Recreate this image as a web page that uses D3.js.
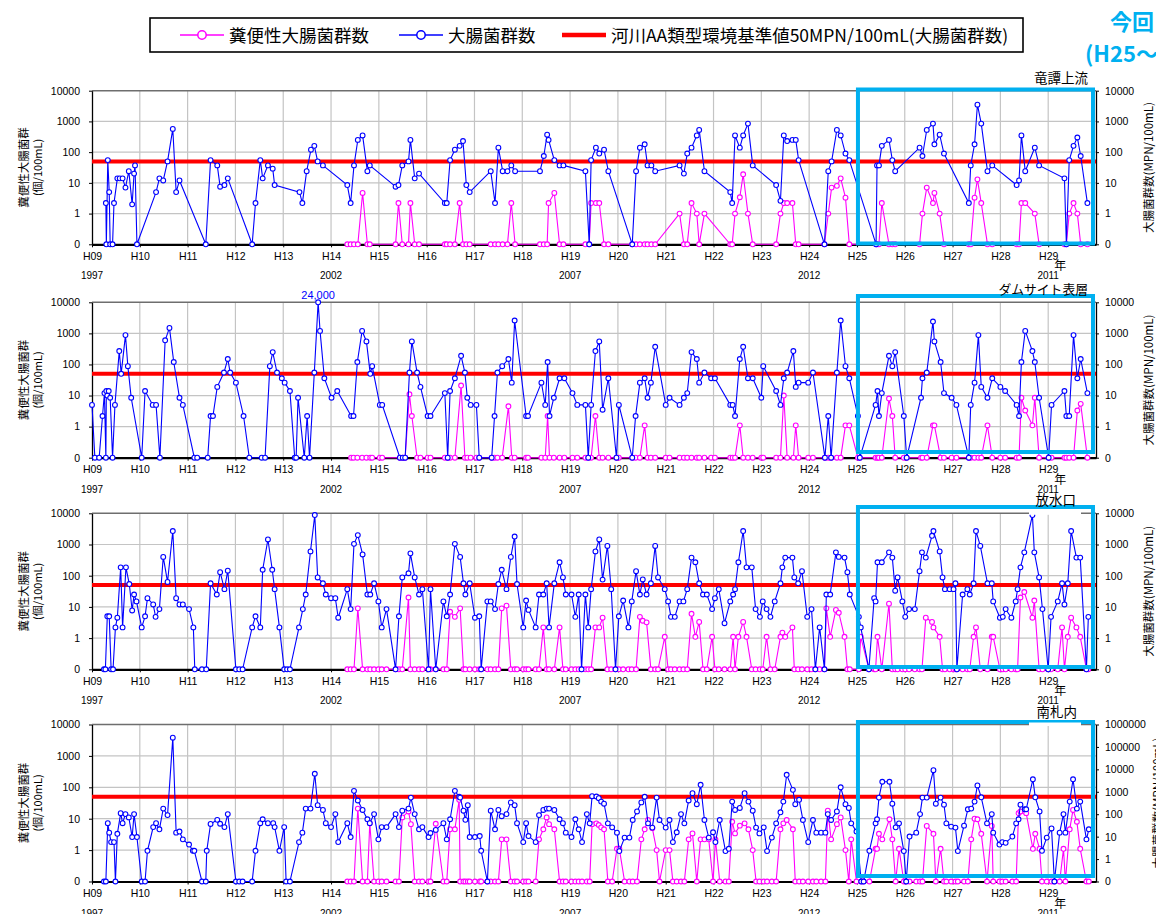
<!DOCTYPE html>
<html>
<head>
<meta charset="utf-8">
<script src="https://cdn.jsdelivr.net/npm/d3@7"></script>
<style>
body { margin: 0; background: #fff; }
text { font-family: "Liberation Sans", Arial, sans-serif; }
.jp { font-family: "Noto Sans CJK JP", "Noto Sans", sans-serif; }
</style>
</head>
<body>
<svg id="chart" width="1156" height="914"></svg>
<script>

// ---- data (fiscal year as decimal, e.g. 14.5 = middle of H14) ----
var sites = ["竜譚上流", "ダムサイト表層", "放水口", "南札内"];
var yearTicks = [9,10,11,12,13,14,15,16,17,18,19,20,21,22,23,24,25,26,27,28,29];
var yearLabels = ["H09","H10","H11","H12","H13","H14","H15","H16","H17","H18","H19",
                  "H20","H21","H22","H23","H24","H25","H26","H27","H28","H29"];
var calendarTicks = [9, 14, 19, 24, 29];
var calendarLabels = ["1997", "2002", "2007", "2012", "2011"];
var leftTicks = [0, 1, 10, 100, 1000, 10000];
var rightTicksWide = [0, 1, 10, 100, 1000, 10000, 100000, 1000000];
var standardValue = 50;

// fecal arrays line up with the LAST entries of the dates array (measured from H14)
var dates1 = [
  9.29,9.30,9.33,9.36,9.38,9.43,9.46,9.53,9.58,9.64,9.70,9.77,9.84,9.88,9.90,9.94,
  10.34,10.41,10.49,10.58,10.69,10.76,10.83,
  11.38,11.48,11.62,11.68,11.77,11.84,
  12.35,12.42,12.52,12.57,12.68,12.78,12.82,
  13.34,13.40,13.49,13.58,13.65,13.72,13.83,
  14.34,14.41,14.48,14.56,14.66,14.76,14.81,
  15.35,15.41,15.49,15.62,15.66,15.75,15.84,
  16.38,16.42,16.49,16.59,16.69,16.76,16.83,16.90,
  17.34,17.43,17.50,17.59,17.69,17.77,17.85,
  18.37,18.45,18.52,18.55,18.67,18.78,18.86,
  19.32,19.40,19.44,19.54,19.61,19.71,19.80,
  20.30,20.38,20.46,20.56,20.62,20.70,20.78,
  21.29,21.38,21.45,21.54,21.65,21.70,21.81,
  22.35,22.39,22.45,22.55,22.62,22.72,22.82,
  23.31,23.40,23.47,23.54,23.65,23.72,23.78,
  24.32,24.40,24.47,24.58,24.66,24.76,24.84,
  25.40,25.42,25.46,25.52,25.67,25.74,25.80,
  26.31,26.37,26.46,26.59,26.62,26.73,26.82,
  27.34,27.38,27.46,27.52,27.60,27.73,27.83,
  28.34,28.39,28.44,28.52,28.72,28.81,
  29.34,29.38,29.44,29.53,29.61,29.68,29.82];
var coli1 = [
  2.2,0,55,5,0,0,2.2,14,14,14,7,24,2,20,37,0,
  5,14,12,50,570,5,12,
  0,55,37,7.5,8.5,14,
  0,2.2,55,14,37,29,8.5,
  5,2.2,24,120,160,50,37,
  8.5,2.2,37,250,350,24,37,
  7.5,8.5,37,50,250,14,20,
  2.2,2.2,55,120,160,230,8.5,5,
  24,2.2,140,24,24,37,24,
  24,75,370,250,55,37,37,
  24,0,55,140,90,120,24,
  0,24,140,180,37,37,24,
  37,20,90,140,350,530,24,
  5,2.2,350,140,350,850,37,
  8.5,2.6,350,230,250,250,55,
  0,24,50,530,350,90,55,
  0,37,37,160,250,55,24,
  140,75,530,850,180,370,90,
  2.2,37,180,3500,850,24,37,
  8.5,12,350,24,140,37,
  14,0,55,160,300,75,2.2];
var fecal1 = [
  0,0,0,0,4.7,0,0,
  0,2.2,0,0,2.2,0,0,
  0,0,0,0,2.2,0,0,0,
  0,0,0,0,0,2.2,0,
  0,0,0,2.2,4.7,0,0,
  0,0,2.2,2.2,2.2,0,0,
  0,0,0,0,0,0,0,
  1,0,0,2.2,1,0,1,
  0,0,1,3.4,19,1,0,
  0,1,2.2,2.2,2.2,0,0,
  0,1,7,8,14,3.3,0,
  0,0,0,2.2,0,0,0,
  0,1,7,2.2,4.7,1,0,
  0,0,3.3,13,2.2,0,0,
  0,0,2.2,2.2,1,0,
  0,0,1,2.2,1,0,0];

var dates2 = [
  9.00,9.06,9.15,9.22,9.26,9.29,9.30,9.32,9.35,9.38,9.43,9.48,9.57,9.61,9.70,9.75,9.82,
  10.04,10.11,10.27,10.34,10.42,10.53,10.62,10.71,10.83,10.90,
  11.14,11.20,11.42,11.48,11.53,11.62,11.76,11.84,11.89,
  12.01,12.17,12.29,12.55,12.62,12.72,12.78,12.87,12.97,
  13.03,13.14,13.24,13.27,13.31,13.44,13.50,13.55,13.65,13.73,13.77,13.86,
  14.01,14.13,14.42,14.47,14.55,14.65,14.74,14.82,14.86,
  15.02,15.07,15.44,15.50,15.55,15.64,15.69,15.80,15.87,
  16.02,16.08,16.38,16.44,16.49,16.59,16.72,16.80,16.85,16.92,
  17.04,17.10,17.36,17.42,17.48,17.58,17.71,17.78,17.84,
  18.08,18.12,18.40,18.48,18.53,18.57,18.66,18.78,18.88,
  19.05,19.15,19.32,19.38,19.44,19.53,19.61,19.68,19.80,19.97,
  20.02,20.30,20.37,20.46,20.56,20.62,20.69,20.78,
  21.00,21.08,21.29,21.38,21.45,21.54,21.65,21.70,21.81,21.95,
  22.03,22.35,22.40,22.45,22.55,22.62,22.72,22.82,
  23.00,23.04,23.31,23.40,23.47,23.54,23.67,23.72,23.78,23.98,
  24.08,24.33,24.40,24.46,24.58,24.66,24.76,24.84,
  25.02,25.06,25.39,25.43,25.46,25.52,25.67,25.74,25.80,25.98,
  26.04,26.34,26.37,26.46,26.59,26.62,26.75,26.82,26.98,
  27.08,27.34,27.38,27.46,27.54,27.60,27.73,27.83,
  28.00,28.10,28.34,28.39,28.44,28.52,28.67,28.72,28.81,
  29.01,29.07,29.34,29.38,29.44,29.53,29.61,29.68,29.82];
var coli2 = [
  5,0,0,2.2,12,0,14,10,14,8.5,0,5,270,50,880,88,8.5,
  0,14,5,5,0,600,1500,120,8.5,5,
  0,0,0,2.2,2.2,19,55,150,55,
  26,2.2,0,0,0,88,250,55,36,
  26,14,0,0,8.5,0,2.2,0,55,24000,1200,36,
  8.5,14,2.2,2.2,120,1200,550,50,88,
  5,5,0,0,0,55,550,55,19,
  2.2,2.2,12,0,14,36,190,55,8.5,5,
  5,0,0,2.2,55,88,150,26,2600,
  2.2,2.2,26,5,120,2.2,8.5,36,36,
  12,5,5,0,5,270,550,3.5,36,0,
  5,0,2.2,26,36,8.5,26,370,
  5,8.5,5,8.5,12,250,150,26,55,36,
  36,5,5,2.2,150,370,36,36,
  8.5,88,14,5,36,55,270,19,26,26,
  55,0,2.2,0,55,2600,88,36,
  2.2,0,5,14,2.2,12,190,88,250,2.2,
  0,8.5,36,55,2400,550,120,12,8.5,
  5,0,5,26,880,19,8.5,36,
  19,14,5,2.2,120,1200,270,120,8.5,
  0,5,14,2.2,2.2,880,36,150,12];
var fecal2 = [
  0,0,0,0,0,0,0,
  0,0,0,0,0,11,2.2,0,0,
  0,0,0,0,0,0,21,0,0,0,
  0,0,0,0,0,0,4.5,0,0,
  0,0,0,0,2.2,0,0,0,0,
  0,0,0,0,0,2.2,0,0,0,0,
  0,0,0,0,1.1,0,0,0,
  0,0,0,0,0,0,0,0,0,0,
  0,0,0,0,1.1,0,0,0,
  0,0,0,0,10,0,0,1.1,0,0,
  0,0,0,0,0,0,1.1,1.1,
  0,0,0,0,0,0,8,2.2,0,0,
  0,0,0,0,1.1,1.1,0,0,0,
  0,0,0,0,0,0,1.1,0,
  0,0,0,0,8.5,3.3,1.1,8.5,0,
  0,0,0,0,0,0,3.3,5.4,0];

var dates3 = [
  9.25,9.28,9.32,9.36,9.40,9.44,9.49,9.53,9.60,9.64,9.71,9.78,9.84,9.88,9.93,
  10.04,10.11,10.16,10.28,10.33,10.41,10.49,10.58,10.69,10.76,10.83,10.90,
  11.03,11.12,11.15,11.30,11.39,11.48,11.61,11.68,11.77,11.84,
  12.01,12.08,12.15,12.35,12.42,12.52,12.57,12.68,12.77,12.82,12.92,
  13.02,13.08,13.14,13.33,13.41,13.47,13.57,13.66,13.72,13.83,13.89,
  14.00,14.09,14.15,14.34,14.41,14.48,14.56,14.66,14.76,14.82,14.90,14.99,
  15.06,15.16,15.35,15.42,15.49,15.62,15.66,15.75,15.84,15.91,
  16.04,16.08,16.19,16.35,16.42,16.49,16.59,16.70,16.77,16.81,16.90,
  17.01,17.10,17.14,17.27,17.34,17.43,17.50,17.57,17.67,17.76,17.84,17.89,
  18.02,18.08,18.13,18.28,18.35,18.44,18.51,18.56,18.67,18.78,18.85,18.91,
  19.03,19.11,19.18,19.24,19.32,19.38,19.44,19.53,19.61,19.68,19.78,19.86,19.95,
  20.02,20.11,20.22,20.29,20.38,20.46,20.52,20.60,20.69,20.78,20.84,20.98,
  21.05,21.11,21.19,21.29,21.37,21.45,21.54,21.62,21.70,21.78,21.86,21.97,
  22.03,22.11,22.23,22.35,22.41,22.45,22.52,22.62,22.69,22.80,22.88,22.97,
  23.03,23.11,23.19,23.28,23.40,23.44,23.50,23.65,23.69,23.77,23.85,23.96,
  24.05,24.13,24.22,24.32,24.36,24.44,24.56,24.62,24.74,24.80,24.85,
  25.04,25.08,25.25,25.36,25.39,25.43,25.52,25.67,25.74,25.80,25.85,25.95,
  26.01,26.09,26.21,26.31,26.36,26.44,26.57,26.60,26.73,26.79,26.84,26.94,
  27.02,27.06,27.09,27.21,27.31,27.36,27.44,27.49,27.58,27.73,27.82,27.85,27.99,
  28.05,28.11,28.23,28.32,28.36,28.42,28.50,28.67,28.71,28.81,28.88,
  29.00,29.06,29.20,29.29,29.34,29.41,29.48,29.59,29.67,29.80,29.84];
var coli3 = [
  0,0,5,5,0,0,2.2,4.5,185,2.2,185,54,7.7,25,15,
  2.2,5,19,12,4.8,8.5,400,63,2700,19,12,12,
  8.5,2.2,0,0,0,57,25,130,37,145,
  0,0,0,2.2,5,2.2,155,1450,155,37,2.2,
  0,0,0,2.2,8.5,25,600,8800,88,57,25,
  19,19,4.5,37,8.5,1050,2000,480,25,25,57,15,
  2.2,8.5,0,5,88,120,520,88,25,37,
  0,37,0,15,5,25,1050,400,57,25,57,
  4.5,5,0,15,15,8.5,54,155,37,400,1800,54,
  2.2,16,8,2.2,25,25,57,2.2,57,270,88,25,
  25,4.8,25,0,25,2.2,37,600,1450,75,900,37,0,
  5,16,2.2,15,140,25,76,25,57,900,88,37,
  15,4.8,4.8,15,15,37,380,270,57,25,25,8.5,
  19,37,3,15,25,37,270,2700,185,185,8.5,4.8,
  15,8.5,4.8,15,57,185,380,380,88,57,140,4.8,
  8.5,0,2.2,0,25,25,560,400,380,130,25,
  4.8,2.2,0,19,15,270,270,560,380,33,88,15,
  4.8,8.5,8.5,140,560,380,1900,2700,600,88,37,37,
  37,57,0,25,37,25,57,2700,900,57,57,15,4.5,
  4.8,8.5,4.5,15,37,185,560,8800,560,88,8.5,
  0,4.8,15,57,12,57,2700,380,380,0,4.8];
var fecal3 = [
  0,0,0,9,0,0,0,0,0,
  0,0,0,0,0,20,0,0,0,0,
  0,0,0,0,0,7,4.8,9,0,0,0,
  0,0,0,0,0,0,0,9,11,0,0,0,
  0,0,0,0,0,2.2,0,0,0,2.2,0,0,
  0,0,0,0,0,0,0,2.2,2.2,4.5,0,0,0,
  0,0,0,0,0,4.8,3.6,3.2,0,0,0,1.1,
  0,0,0,0,0,0,6,1.1,3.3,0,0,1.1,
  0,0,0,0,1.1,0,1.1,3.3,1.1,0,0,0,
  0,1.1,0,0,1.1,1.5,1.1,2.2,0,0,0,0,
  0,0,0,0,9,1.1,8,6.5,1.1,0,0,
  0,1.1,0,0,0,1.1,0,12.7,0,0,0,0,
  0,0,0,0,0,4.5,3.3,2.2,1.1,0,0,0,
  0,0,0,0,0,0,1.1,2.2,0,0,1.1,1.1,0,
  0,0,0,0,0,20,30,4.5,16,0,0,
  0,0,0,2.2,0,1.1,4.5,2.2,1.1,0,0];

var dates4 = [
  9.25,9.29,9.33,9.36,9.40,9.46,9.49,9.53,9.60,9.64,9.70,9.77,9.84,9.88,9.94,
  10.04,10.11,10.16,10.28,10.34,10.41,10.49,10.58,10.69,10.76,10.83,10.90,
  11.03,11.11,11.14,11.30,11.38,11.40,11.48,11.62,11.68,11.77,11.84,
  12.01,12.08,12.15,12.35,12.42,12.52,12.57,12.68,12.79,12.82,12.92,
  13.02,13.06,13.14,13.33,13.40,13.47,13.57,13.66,13.72,13.83,13.89,
  14.00,14.09,14.15,14.34,14.41,14.48,14.56,14.66,14.76,14.81,14.90,14.99,
  15.06,15.16,15.35,15.42,15.49,15.62,15.67,15.75,15.84,15.91,
  16.04,16.08,16.19,16.35,16.42,16.49,16.59,16.68,16.70,16.77,16.81,16.86,16.90,
  17.01,17.11,17.14,17.27,17.34,17.43,17.50,17.57,17.67,17.76,17.84,17.89,
  18.02,18.08,18.13,18.28,18.35,18.44,18.51,18.56,18.67,18.78,18.85,18.91,
  19.03,19.11,19.18,19.25,19.35,19.41,19.46,19.55,19.60,19.65,19.71,19.79,19.88,19.98,
  20.03,20.14,20.24,20.31,20.40,20.49,20.56,20.63,20.72,20.81,20.87,
  21.00,21.08,21.15,21.23,21.32,21.39,21.48,21.56,21.65,21.73,21.81,21.90,21.99,
  22.04,22.13,22.25,22.32,22.39,22.45,22.55,22.65,22.73,22.82,22.89,22.96,
  23.05,23.12,23.22,23.31,23.40,23.46,23.53,23.66,23.71,23.79,23.87,23.98,
  24.08,24.15,24.25,24.34,24.39,24.46,24.58,24.66,24.76,24.83,24.88,24.99,
  25.09,25.14,25.26,25.39,25.42,25.46,25.53,25.68,25.74,25.81,25.88,25.98,
  26.03,26.10,26.24,26.32,26.37,26.46,26.60,26.65,26.75,26.82,26.87,26.97,
  27.06,27.11,27.24,27.32,27.39,27.46,27.52,27.60,27.72,27.82,27.85,27.98,
  28.04,28.11,28.25,28.33,28.38,28.42,28.51,28.54,28.68,28.73,28.82,28.87,28.97,
  29.07,29.13,29.24,29.32,29.36,29.45,29.52,29.60,29.67,29.80,29.85];
var coli4 = [
  0,0,7.2,3.6,1.8,1.8,0,3.3,15,7.2,14,11,2.6,14,2.6,
  0,0,0.95,5.4,7.2,4.6,21,13,3800,3.6,3.9,2.2,
  1.5,0.95,0.95,0,0,0.95,6.8,9.2,6.9,5.4,14,
  0,0,0,0,0.95,7.2,9.6,7.2,7.2,5.4,0.95,
  5.4,0,0,1.8,3.6,21,21,270,27,19,7.2,
  5.4,14,1.8,7.2,2.6,77,38,19,9.6,7.2,14,2.2,
  5.4,5.4,14,5.4,18,21,47,14,4.6,5.4,
  2.6,3.5,4.4,7.2,2.2,9.6,77,50,47,18,9.2,27,2.6,
  2.6,2.8,0.95,0,18,4.6,19,12,14,33,27,7.2,
  1.8,7.2,2.8,1.8,13,19,21,21,19,9.6,7.2,3.6,
  2.6,9.6,4.6,1.8,14,7.1,52,51,45,35,30,7.1,5.3,3.6,
  0.93,2.5,2.5,9.1,17,33,50,7.1,5.2,47,9.1,
  5.2,9.1,1.8,3.7,14,7.1,38,65,29,120,9.1,2.5,3.7,
  1.8,9.1,0.93,1.1,35,19,22,65,35,18,5.2,3.4,
  5.3,0.93,2.5,7.1,16,35,250,83,29,40,9.1,1.8,
  9.1,3.6,3.6,3.6,14,9.1,17,100,29,22,7.1,3.9,
  0,0,0.95,7.1,9.6,47,150,150,30,5.3,7.1,0.93,
  0,2.7,3.6,14,47,47,350,30,47,28,7.1,5.6,
  5.2,0.93,6,20,21,35,115,48,7.1,14,3.6,1.5,
  1.8,1.7,2.7,7.1,9.6,28,20,20,180,48,17,0.95,2.5,
  4.9,0,3.6,14,3.6,35,180,21,35,2.2,4.6];
var fecal4 = [
  0,0,0,21,0,0,7.2,0,0,
  0,0,0,0,11,17,6.7,0,0,0,
  0,0,6.9,0,0,4.6,4.6,40,0,0,0,0,0,
  0,0,0,0,0,0,0,2.2,2.2,0,0,0,
  0,0,0,0,2.2,4.6,11,6.7,4.6,0,0,0,
  0,0,0,0,0,0,6.7,7.1,6.3,5.3,4.6,0,0,1.1,
  1.1,0,0,0,0,2.2,4.6,9.1,5,1.0,0,
  1.0,1.0,0,0,0,0,2.2,3.4,0,2.2,2.2,2.2,0,
  2.2,0,0,0,8,3.4,6,7.1,4.6,1.0,0,0,
  0,0,0,0,4.6,7.1,9.1,4.6,0,0,0,0,
  0,0,0,0,18,2.2,6.7,11,1.0,0,2.2,0,
  0,0,0,1.1,1.1,3.3,2.2,9.6,2.2,0,1.1,0,
  0,0,0,0,0,5.9,3.3,0,1.1,0,0,0,
  0,0,0,0,2.2,10,9.6,3.3,0,5.9,0,0,
  0,0,0,0,15,17,17,15,1.1,3.3,1.1,0,0,
  0,0,0,1.1,0,4.6,19,8,1.1,0,0];

var allDates = [dates1, dates2, dates3, dates4];
var allColi = [coli1, coli2, coli3, coli4];
var allFecal = [fecal1, fecal2, fecal3, fecal4];

// ---- layout ----
var panelTop = [90.7, 302.3, 513.3, 724.5];
var panelBottom = [244.3, 457.7, 669.3, 881.5];
var boxTop = [89.5, 296, 507, 722];
var boxBottom = [243.5, 452, 667, 876];
var titleRight = [1088, 1088, 1076, 1077];
var titleSize = [13.5, 12.8, 13.5, 13.5];

var COLI = "#0000ff", FECAL = "#ff00ff", RED = "#ff0000", CYAN = "#00b0f0";

var svg = d3.select("#chart");
svg.append("rect").attr("width", 1156).attr("height", 914).attr("fill", "#fff");

var x = d3.scaleLinear().domain([9, 30]).range([92, 1096]);

function zeroAsBottom(v) { return v === 0 ? 0.1 : v; }

sites.forEach(function(site, i) {
    var top = panelTop[i], bot = panelBottom[i];
    var y = d3.scaleLog().domain([0.1, 10000]).range([bot, top]).clamp(true);
    var yRight = i === 3
        ? d3.scaleLog().domain([0.1, 1000000]).range([bot, top])
        : y;
    var g = svg.append("g");

    // grid
    g.append("g").selectAll("line").data(yearTicks.slice(1)).enter().append("line")
        .attr("x1", d => x(d)).attr("x2", d => x(d))
        .attr("y1", top).attr("y2", bot)
        .attr("stroke", "#c4c4c4").attr("stroke-width", 1.2);
    g.append("g").selectAll("line").data([1, 10, 100, 1000]).enter().append("line")
        .attr("x1", x(9)).attr("x2", x(30))
        .attr("y1", d => y(d)).attr("y2", d => y(d))
        .attr("stroke", "#c4c4c4").attr("stroke-width", 1.2);
    g.append("line")
        .attr("x1", x(9)).attr("x2", x(30)).attr("y1", top).attr("y2", top)
        .attr("stroke", "#6e6e6e").attr("stroke-width", 1.5);

    // axes
    var left = g.append("g").attr("transform", "translate(" + x(9) + ",0)")
        .call(d3.axisLeft(y).tickValues(leftTicks.map(zeroAsBottom))
            .tickFormat(d => d < 1 ? "0" : d3.format("d")(d))
            .tickSizeInner(3).tickSizeOuter(0).tickPadding(9));
    var right = g.append("g").attr("transform", "translate(" + x(30) + ",0)")
        .call(d3.axisRight(yRight)
            .tickValues((i === 3 ? rightTicksWide : leftTicks).map(zeroAsBottom))
            .tickFormat(d => d < 1 ? "0" : d3.format("d")(d))
            .tickSizeInner(3).tickSizeOuter(0).tickPadding(6));
    var bottom = g.append("g").attr("transform", "translate(0," + bot + ")")
        .call(d3.axisBottom(x).tickValues(yearTicks)
            .tickFormat((d, j) => yearLabels[j])
            .tickSizeInner(3).tickSizeOuter(0).tickPadding(5));
    [left, right, bottom].forEach(function(a) {
        a.select(".domain").attr("stroke", "#000").attr("stroke-width", 1.3);
        a.selectAll(".tick line").attr("stroke", "#000");
        a.selectAll(".tick text").attr("fill", "#000")
            .style("font-family", "'Liberation Sans', Arial, sans-serif")
            .style("font-size", "10.5px");
    });
    bottom.select(".domain").attr("stroke-width", 2.2);
    bottom.selectAll(".tick line").attr("y2", 3);

    g.append("g").selectAll("text").data(calendarTicks).enter().append("text")
        .attr("x", d => x(d)).attr("y", bot + 35)
        .attr("text-anchor", "middle").attr("font-size", 10)
        .text((d, j) => calendarLabels[j]);
    g.append("text").attr("class", "jp")
        .attr("x", x(29) + 12).attr("y", bot + 26)
        .attr("text-anchor", "middle").attr("font-size", 12).text("年");

    // axis titles
    g.append("text").attr("class", "jp")
        .attr("transform", "translate(28," + (top + bot) / 2 + ") rotate(-90)")
        .attr("text-anchor", "middle").attr("font-size", 11.5).text("糞便性大腸菌群");
    g.append("text").attr("class", "jp")
        .attr("transform", "translate(42," + (top + bot) / 2 + ") rotate(-90)")
        .attr("text-anchor", "middle").attr("font-size", 11).text("(個/100mL)");
    g.append("text").attr("class", "jp")
        .attr("transform", "translate(" + (i === 3 ? 1162 : 1153) + "," + (top + bot) / 2 + ") rotate(-90)")
        .attr("text-anchor", "middle").attr("font-size", 11.5).text("大腸菌群数(MPN/100mL)");

    // environmental standard
    g.append("line")
        .attr("x1", x(9)).attr("x2", x(30))
        .attr("y1", y(standardValue)).attr("y2", y(standardValue))
        .attr("stroke", RED).attr("stroke-width", 4);

    // series
    var dates = allDates[i];
    var coli = dates.map((t, k) => [t, allColi[i][k]]);
    var off = dates.length - allFecal[i].length;
    var fecal = allFecal[i].map((v, k) => [dates[off + k], v]);

    var line = d3.line().x(d => x(d[0])).y(d => y(zeroAsBottom(d[1])));
    [[fecal, FECAL], [coli, COLI]].forEach(function(s) {
        g.append("path").datum(s[0])
            .attr("d", line).attr("fill", "none")
            .attr("stroke", s[1]).attr("stroke-width", 1.1);
        g.append("g").selectAll("circle").data(s[0]).enter().append("circle")
            .attr("cx", d => x(d[0])).attr("cy", d => y(zeroAsBottom(d[1])))
            .attr("r", 2.4).attr("fill", "#fff")
            .attr("stroke", s[1]).attr("stroke-width", 1.1);
    });

    if (i === 1) {
        var peak = coli.filter(d => d[1] > 10000)[0];
        g.append("text").attr("x", x(peak[0])).attr("y", top - 3)
            .attr("text-anchor", "middle").attr("font-size", 11)
            .attr("fill", COLI).text(d3.format(",")(peak[1]));
    }

    // current-survey frame
    g.append("rect")
        .attr("x", x(25) + 1).attr("y", boxTop[i])
        .attr("width", x(30) - x(25) - 4).attr("height", boxBottom[i] - boxTop[i])
        .attr("fill", "none").attr("stroke", CYAN).attr("stroke-width", 4);

    // site name
    if (i >= 2) {
        g.append("rect").attr("x", 1029).attr("y", top - 2)
            .attr("width", 52).attr("height", 3.5).attr("fill", "#fff");
    }
    g.append("text").attr("class", "jp")
        .attr("x", titleRight[i]).attr("y", top - 8)
        .attr("text-anchor", "end").attr("font-size", titleSize[i]).text(site);
});

// ---- legend ----
var legend = svg.append("g");
legend.append("rect").attr("x", 150).attr("y", 18).attr("width", 873).attr("height", 34)
    .attr("fill", "#fff").attr("stroke", "#000").attr("stroke-width", 1.6);
var legendItems = [
    {label: "糞便性大腸菌群数", color: FECAL, x0: 180, marker: true},
    {label: "大腸菌群数", color: COLI, x0: 399, marker: true},
    {label: "河川AA類型環境基準値50MPN/100mL(大腸菌群数)", color: RED, x0: 562, marker: false}
];
legendItems.forEach(function(it) {
    legend.append("line").attr("x1", it.x0).attr("x2", it.x0 + 44)
        .attr("y1", 35).attr("y2", 35)
        .attr("stroke", it.color).attr("stroke-width", it.marker ? 1.6 : 4.5);
    if (it.marker) {
        legend.append("circle").attr("cx", it.x0 + 22).attr("cy", 35).attr("r", 4.2)
            .attr("fill", "#fff").attr("stroke", it.color).attr("stroke-width", 1.5);
    }
    legend.append("text").attr("class", "jp")
        .attr("x", it.x0 + 49).attr("y", 41.5)
        .attr("font-size", 17.5).text(it.label);
});

// ---- note at top right (cut by the page edge) ----
svg.append("text").attr("class", "jp").attr("x", 1110).attr("y", 30)
    .attr("font-size", 22).attr("font-weight", "bold").attr("fill", CYAN).text("今回");
svg.append("text").attr("class", "jp").attr("x", 1085).attr("y", 62)
    .attr("font-size", 22).attr("font-weight", "bold").attr("fill", CYAN).text("(H25～");

</script>
</body>
</html>
